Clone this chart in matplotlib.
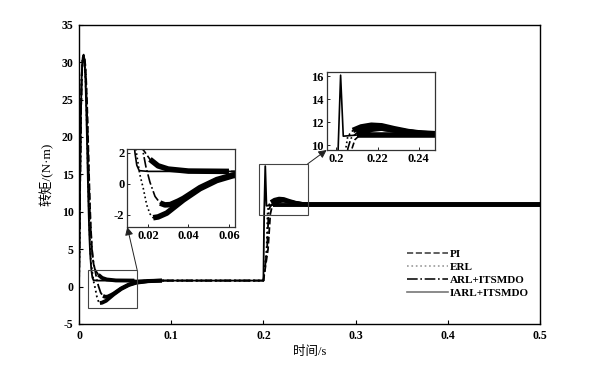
import numpy as np
import matplotlib
matplotlib.use("Agg")
import matplotlib.pyplot as plt
from matplotlib.patches import Rectangle, ConnectionPatch
from matplotlib.lines import Line2D
from matplotlib.ticker import FuncFormatter

plt.rcParams['font.family'] = ['Liberation Serif', 'Noto Sans CJK SC']
plt.rcParams['font.weight'] = 'bold'
plt.rcParams['font.size'] = 8
plt.rcParams['axes.unicode_minus'] = False

# ---- data (time in s, torque in N·m) ----
t_pi = [0, 0.001, 0.002, 0.003, 0.004, 0.005, 0.006, 0.007, 0.008, 0.009, 0.010,
        0.011, 0.012, 0.013, 0.014, 0.015, 0.016, 0.0177, 0.021, 0.025, 0.030,
        0.040, 0.060, 0.200, 0.205, 0.2075, 0.209, 0.212, 0.217, 0.222, 0.228,
        0.235, 0.245, 0.500]
y_pi = [0, 11, 22, 28, 30.2, 30.4, 30.5, 29.5, 27, 23.5, 19,
        14.5, 10.5, 7.5, 5.2, 3.7, 2.9, 2.2, 1.58, 1.16, 0.95,
        0.82, 0.8, 0.8, 5, 9.7, 10.5, 11.0, 11.4, 11.5, 11.35,
        11.15, 11.0, 11.0]

t_erl = [0, 0.001, 0.002, 0.003, 0.004, 0.005, 0.006, 0.007, 0.008, 0.009, 0.010,
         0.011, 0.012, 0.013, 0.0141, 0.016, 0.0177, 0.0194, 0.021, 0.0226, 0.025,
         0.0293, 0.0375, 0.0457, 0.054, 0.062, 0.075, 0.090, 0.200, 0.2035, 0.2045,
         0.2055, 0.208, 0.212, 0.217, 0.222, 0.228, 0.235, 0.242, 0.250, 0.500]
y_erl = [0, 12, 23, 28.5, 30.6, 31, 30.2, 28, 24, 19, 13.5,
         9, 5.5, 3.2, 2.2, 0.6, -0.3, -1.37, -1.95, -2.2, -2.15,
         -1.9, -1.05, -0.32, 0.21, 0.52, 0.72, 0.8, 0.8, 5, 9.7,
         10.8, 11.3, 11.6, 11.75, 11.7, 11.45, 11.2, 11.05, 11.0, 11.0]

t_arl = [0, 0.001, 0.002, 0.003, 0.004, 0.005, 0.006, 0.007, 0.008, 0.009, 0.010,
         0.011, 0.012, 0.013, 0.014, 0.015, 0.016, 0.0174, 0.019, 0.021, 0.0235,
         0.026, 0.0284, 0.031, 0.035, 0.0375, 0.0457, 0.054, 0.062, 0.075, 0.090,
         0.200, 0.204, 0.2055, 0.207, 0.210, 0.215, 0.220, 0.226, 0.233, 0.240,
         0.250, 0.500]
y_arl = [0, 12, 23, 28.5, 30.5, 30.8, 30.4, 29, 26, 22, 17.5,
         13, 9, 7, 5, 3.8, 3, 2.2, 1.1, 0.1, -0.82,
         -1.25, -1.37, -1.35, -1.12, -0.95, -0.25, 0.27, 0.57, 0.75, 0.8,
         0.8, 5, 9.7, 10.6, 11.1, 11.45, 11.55, 11.4, 11.2, 11.05,
         11.0, 11.0]

t_iarl = [0, 0.001, 0.002, 0.003, 0.004, 0.005, 0.006, 0.007, 0.008, 0.009, 0.010,
          0.011, 0.012, 0.013, 0.0136, 0.0145, 0.0157, 0.020, 0.200, 0.2008, 0.202,
          0.2033, 0.210, 0.500]
y_iarl = [0, 12, 23, 28.5, 30.6, 31, 30, 27.5, 23, 17.5, 12,
          7.5, 4.5, 2.8, 2.0, 1.2, 0.85, 0.8, 0.8, 9.7, 16.1,
          10.8, 10.9, 10.9]

labels = ['PI', 'ERL', 'ARL+ITSMDO', 'IARL+ITSMDO']
styles = ['--', ':', '-.', '-']
legend_colors = ['#444444', '#999999', '#111111', '#777777']
series = [(t_pi, y_pi), (t_erl, y_erl), (t_arl, y_arl), (t_iarl, y_iarl)]

# zoom windows
z1_x = (0.0098, 0.063)
z1_y = (-2.8, 2.25)
z2_x = (0.1952, 0.248)
z2_y = (9.6, 16.4)

main_xticks = [0, 0.1, 0.2, 0.3, 0.4, 0.5]
main_yticks = [-5, 0, 5, 10, 15, 20, 25, 30, 35]
z1_xticks = [0.02, 0.04, 0.06]
z1_yticks = [-2, 0, 2]
z2_xticks = [0.2, 0.22, 0.24]
z2_yticks = [10, 12, 14, 16]

fmt = FuncFormatter(lambda v, p: ('%g' % round(v, 6)))


def draw_curves(a, lw_line, lw_ripple):
    for (t, y), ls in zip(series, styles):
        t = np.asarray(t, float)
        y = np.asarray(y, float)
        a.plot(t, y, ls=ls, color='black', lw=lw_line)
        # ripple band: the noisy steady parts appear as a thick dark band
        slope = np.abs(np.gradient(y, t))
        yr = np.where(slope < 220, y, np.nan)
        a.plot(t, yr, ls='-', color='black', lw=lw_ripple, solid_capstyle='butt')


fig = plt.figure(figsize=(5.95, 3.67), dpi=100)
ax = fig.add_axes([0.1328, 0.1172, 0.7748, 0.8155])
draw_curves(ax, 1.3, 2.8)

ax.set_xlim(0, 0.5)
ax.set_ylim(-5, 35)
ax.set_xticks(main_xticks)
ax.set_yticks(main_yticks)
ax.xaxis.set_major_formatter(fmt)
ax.tick_params(direction='in', length=3, width=0.8, top=False, right=False,
               labelsize=8.5, pad=4)
for s in ax.spines.values():
    s.set_linewidth(1.0)
ax.set_xlabel('时间/s', fontsize=9, labelpad=3)
ax.set_ylabel('转矩/(N·m)', fontsize=9.5, labelpad=6)

handles = [Line2D([0], [0], ls=ls, color=c, lw=1.2) for ls, c in zip(styles, legend_colors)]
ax.legend(handles, labels, loc='center left', bbox_to_anchor=(0.695, 0.169),
          frameon=False, handlelength=3.7, handletextpad=0.1, labelspacing=0.3,
          borderpad=0.2, prop={'size': 8, 'weight': 'bold'})


def make_inset(pos, xl, yl, xt, yt):
    ia = fig.add_axes(pos)
    draw_curves(ia, 1.2, 4.0)
    ia.set_xlim(*xl)
    ia.set_ylim(*yl)
    ia.set_xticks(xt)
    ia.set_yticks(yt)
    ia.xaxis.set_major_formatter(fmt)
    ia.yaxis.set_major_formatter(fmt)
    ia.tick_params(direction='in', length=2, width=0.6, labelsize=9, pad=2)
    for s in ia.spines.values():
        s.set_linewidth(0.9)
        s.set_color('#333333')
    rect = Rectangle((xl[0], yl[0]), xl[1] - xl[0], yl[1] - yl[0], fill=False,
                     ec='#444444', lw=0.8, zorder=5)
    ax.add_patch(rect)
    con = ConnectionPatch(xyA=(xl[1], yl[1]), coordsA=ax.transData,
                          xyB=(0, 0), coordsB=ia.transAxes,
                          arrowstyle='-|>', mutation_scale=12, color='#222222', lw=0.7)
    fig.add_artist(con)
    return ia


make_inset([0.2139, 0.3815, 0.1811, 0.2125], z1_x, z1_y, z1_xticks, z1_yticks)
make_inset([0.549, 0.5913, 0.182, 0.2133], z2_x, z2_y, z2_xticks, z2_yticks)

fig.savefig('out.png', dpi=100)
